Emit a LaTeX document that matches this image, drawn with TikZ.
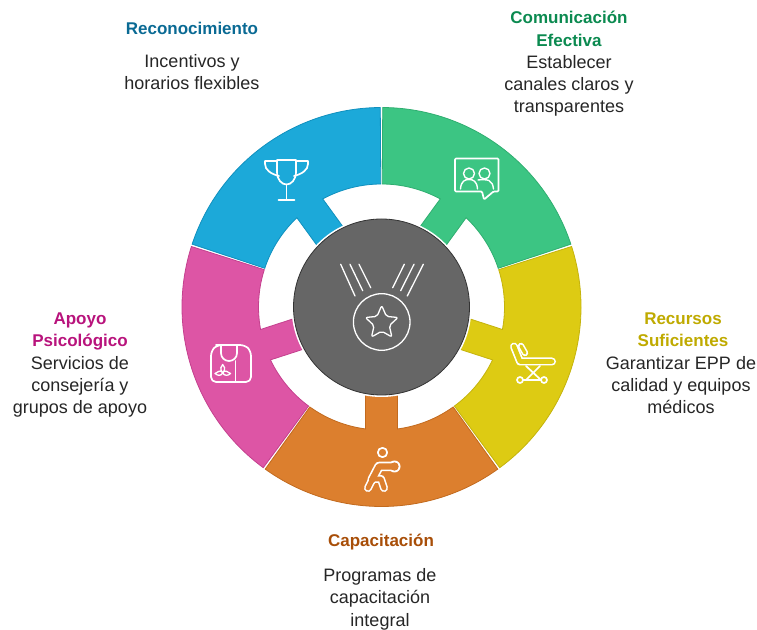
\documentclass[tikz,border=0pt]{standalone}
\usepackage{fontspec}
\setmainfont{Liberation Sans}
\definecolor{cblue}{HTML}{1CA9D9}\definecolor{eblue}{HTML}{1090BE}
\definecolor{cgreen}{HTML}{3CC583}\definecolor{egreen}{HTML}{2FAE70}
\definecolor{cyellow}{HTML}{DDCB13}\definecolor{eyellow}{HTML}{C4B30C}
\definecolor{corange}{HTML}{DC7F2E}\definecolor{eorange}{HTML}{C26A1E}
\definecolor{cpink}{HTML}{DD55A5}\definecolor{epink}{HTML}{C4408E}
\definecolor{cdark}{HTML}{666666}\definecolor{edark}{HTML}{333333}
\definecolor{tblue}{HTML}{0A6A94}\definecolor{tgreen}{HTML}{0B8A50}
\definecolor{tyellow}{HTML}{BFAA00}\definecolor{torange}{HTML}{A84E08}
\definecolor{tpink}{HTML}{B8137C}\definecolor{tbody}{HTML}{262626}
\tikzset{
  headtext/.style={font=\bfseries\fontsize{17}{22.3}\selectfont,align=center,inner sep=0pt},
  bodytext/.style={font=\fontsize{18}{22.3}\selectfont,align=center,inner sep=0pt,text=tbody},
  iconline/.style={draw=white,line width=1.7pt,line join=round,line cap=round},
  fatwhite/.style={draw=white,line width=8pt,line join=round,line cap=round},
}
\newcommand{\ringseg}[3]{%
  \begin{scope}[rotate=#3]
    \filldraw[fill=#1,draw=#2,line width=0.8pt]
      (-35.65:199.5) arc (-35.65:35.65:199.5) -- (35.65:123) arc (35.65:7.47:123)
      -- (85,16) -- (85,-16) -- (-7.47:123) arc (-7.47:-35.65:123) -- cycle;
  \end{scope}}
\begin{document}
\begin{tikzpicture}[x=1pt,y=1pt]
\useasboundingbox (0,0) rectangle (757,629);
\begin{scope}[shift={(381.5,322)}]
  \ringseg{cgreen}{egreen}{54}
  \ringseg{cyellow}{eyellow}{-18}
  \ringseg{corange}{eorange}{-90}
  \ringseg{cpink}{epink}{-162}
  \ringseg{cblue}{eblue}{126}
  \fill[white] (0,0) circle (90);
  \filldraw[fill=cdark,draw=edark,line width=0.8pt] (0,0) circle (88);
\end{scope}
\begin{scope}[shift={(0,629)},y=-1pt]
  % centre medal
  \draw[iconline,line width=1.3pt] (381.7,322) circle (28.3);
  \draw[iconline,line width=1.3pt,rounded corners=2pt]
    (381.7,305.5) -- (386.4,316.4) -- (398,317.5) -- (389.3,325.6) -- (391.9,337)
    -- (381.7,331.2) -- (371.5,337) -- (374.1,325.6) -- (365.4,317.5) -- (377,316.4) -- cycle;
  \draw[iconline,line width=1.3pt] (340.7,264.3) -- (355,296) (350,264.3) -- (362.7,290.7) (359,264.3) -- (370.7,287.7);
  \draw[iconline,line width=1.3pt] (423.3,264.3) -- (407.3,296) (414,264.3) -- (400.7,290.7) (404.3,264.3) -- (392.7,287.7);
  % trophy
  \draw[iconline] (277,160) -- (296,160) -- (296,172) .. controls (296,180) and (291,184.5) .. (286.5,184.5)
    .. controls (282,184.5) and (277,180) .. (277,172) -- cycle;
  \draw[iconline] (277,161) -- (265,161) -- (265,164) .. controls (265,170) and (271,174) .. (279,176);
  \draw[iconline] (296,161) -- (308,161) -- (308,164) .. controls (308,170) and (302,174) .. (294,176);
  \draw[iconline] (286.5,184.5) -- (286.5,200) (278.5,200) -- (294.5,200);
  % chat
  \draw[iconline,rounded corners=1pt] (455,158.5) -- (498.5,158.5) -- (498.5,191.5) -- (493.5,191.5) -- (484,199.5) -- (482,191.5) -- (455,191.5) -- cycle;
  \draw[iconline,line width=1.4pt] (469,173.5) circle (5.5) (484.5,173.5) circle (5.5);
  \draw[iconline,line width=1.4pt] (460.5,189) .. controls (461,181) and (465,179.5) .. (469,179.5) .. controls (473,179.5) and (477,181) .. (477.5,189);
  \draw[iconline,line width=1.4pt] (478,180) .. controls (482,179.5) and (486,179.5) .. (489,180.5) .. controls (492,182) and (493,185) .. (493.5,189);
  % stretcher
  \draw[fatwhite] (514,346.5) -- (520,361.5) -- (552,361.5);
  \draw[draw=cyellow,line width=4.6pt,line join=round,line cap=round] (514,346.5) -- (520,361.5) -- (552,361.5);
  \draw[fatwhite,line width=6.4pt] (521,346) -- (525,353);
  \draw[draw=cyellow,line width=3.2pt,line cap=round] (521,346) -- (525,353);
  \draw[iconline] (526,366) -- (541,380) (540,366) -- (526,380) (523,380) -- (541,380);
  \draw[iconline] (520,380) circle (3) (544,380) circle (3);
  % coat
  \draw[iconline,rounded corners=5pt] (221,345) -- (245,345) -- (251,351) -- (251,382) -- (211,382) -- (211,351) -- (217,345) -- cycle;
  \draw[iconline] (221,345) -- (221,353) .. controls (221,358) and (225,361) .. (229,361) .. controls (233,361) and (237,358) .. (237,353) -- (237,345);
  \draw[iconline] (235.5,361) -- (235.5,382);
  \draw[iconline,line width=1.3pt] (222.7,373) .. controls (221,369) and (218,372) .. (215,373.5) .. controls (218,376) and (221,376) .. (222.7,373)
    .. controls (224.5,369) and (228,372) .. (230.5,373.5) .. controls (228,376) and (224.5,376) .. (222.7,373)
    .. controls (219.5,369) and (221,366) .. (222.7,364.5) .. controls (224.5,366) and (226,369) .. (222.7,373);
  % figure
  \draw[iconline] (382.5,452.5) circle (4.7);
  \draw[fatwhite] (372,479) -- (381,479) -- (384,488);
  \draw[fatwhite,line width=9.5pt] (392,466.5) -- (379,466.5) -- (372,480);
  \draw[fatwhite] (373,478) -- (368,488);
  \fill[white] (394.5,466.5) circle (6);
  \draw[draw=corange,line width=4.8pt,line join=round,line cap=round] (372,479) -- (381,479) -- (384,488);
  \draw[draw=corange,line width=6.2pt,line join=round,line cap=round] (392,466.5) -- (379,466.5) -- (372,480);
  \draw[draw=corange,line width=4.8pt,line cap=round] (373,478) -- (368,488);
  \fill[corange] (394.5,466.5) circle (4.2);
  % texts
  \node[headtext,text=tblue] (reconT) at (192,30.5) {\strut Reconocimiento};
  \node[bodytext] (reconB) at (192,74) {\strut Incentivos y\\horarios flexibles\strut};
  \node[headtext,text=tgreen] (comT) at (569,30.5) {\strut Comunicación\\Efectiva\strut};
  \node[bodytext] (comB) at (569,86) {\strut Establecer\\canales claros y\\transparentes\strut};
  \node[headtext,text=tyellow] (recT) at (683,331) {\strut Recursos\\Suficientes\strut};
  \node[bodytext] (recB) at (681,387) {\strut Garantizar EPP de\\calidad y equipos\\médicos\strut};
  \node[headtext,text=torange] (capT) at (381,542) {\strut Capacitación};
  \node[bodytext] (capB) at (380,599.5) {\strut Programas de\\capacitación\\integral\strut};
  \node[headtext,text=tpink] (apoT) at (80,331) {\strut Apoyo\\Psicológico\strut};
  \node[bodytext] (apoB) at (80,387) {\strut Servicios de\\consejería y\\grupos de apoyo\strut};
\end{scope}
\end{tikzpicture}
\end{document}
